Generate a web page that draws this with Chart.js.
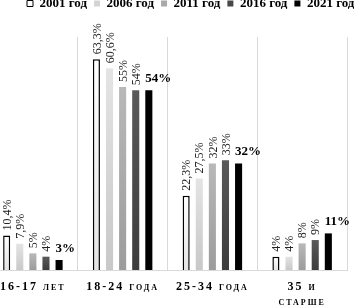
<!DOCTYPE html>
<html>
<head>
<meta charset="utf-8">
<script src="https://cdn.jsdelivr.net/npm/chart.js@4.4.1/dist/chart.umd.min.js"></script>
<style>
  html, body { margin: 0; padding: 0; background: #fff; overflow: hidden; width: 354px; height: 305px; position: relative; }
  #c { position: absolute; left: -12px; top: 0; }
</style>
</head>
<body>
<canvas id="c" width="402" height="318"></canvas>
<script>
const categories = ['16-17 лет', '18-24 года', '25-34 года', ['35 и', 'старше']];
const seriesNames = ['2001 год', '2006 год', '2011 год', '2016 год', '2021 год'];
const values2001 = [10.4, 63.3, 22.3, 4];
const values2006 = [7.9, 60.6, 27.5, 4];
const values2011 = [5, 55, 32, 8];
const values2016 = [4, 54, 33, 9];
const values2021 = [3, 54, 32, 11];
const allValues = [values2001, values2006, values2011, values2016, values2021];

const FONT = '"Liberation Serif", "Times New Roman", serif';
const solid = ['#ffffff', '#d4d4d4', '#a9a9a9', '#474747', '#000000'];
const gradStops = [
  ['#ffffff', '#e4e4e4'],
  ['#e4e4e4', '#c8c8c8'],
  ['#b8b8b8', '#9c9c9c'],
  ['#5a5a5a', '#3c3c3c'],
  ['#000000', '#000000']
];

function fmt(v) { return String(v).replace('.', ',') + '%'; }

function barFill(di) {
  return function(ctx) {
    const chart = ctx.chart;
    const y = chart.scales && chart.scales.y;
    if (!chart.chartArea || !y || ctx.type !== 'data') return solid[di];
    const v = ctx.raw;
    const top = y.getPixelForValue(v), base = y.getPixelForValue(0);
    if (!isFinite(top) || !isFinite(base) || base - top < 1) return solid[di];
    const g = chart.ctx.createLinearGradient(0, top, 0, base);
    g.addColorStop(0, gradStops[di][0]);
    g.addColorStop(1, gradStops[di][1]);
    return g;
  };
}

const datasets = allValues.map((vals, di) => ({
  label: seriesNames[di],
  data: vals,
  backgroundColor: barFill(di),
  borderColor: di === 0 ? '#000000' : 'rgba(0,0,0,0)',
  borderWidth: di === 0 ? 1.5 : 0,
  categoryPercentage: 0.73,
  barPercentage: 0.54
}));

const legendSpacer = {
  id: 'legendSpacer',
  beforeInit(chart) {
    const lg = chart.legend;
    if (!lg) return;
    const fit = lg.fit;
    lg.fit = function() { this.maxWidth = 500; fit.call(this); this.height += 17; };
  },
  afterLayout(chart) {
    const lg = chart.legend;
    if (lg) { lg.left = 32; lg.right = 532; }
  }
};

const tickSpacing = {
  id: 'tickSpacing',
  beforeDraw(chart) {
    const s = chart.scales.x;
    if (s && !s._spaced) {
      const orig = s.drawLabels;
      s.drawLabels = function(area) {
        const c = this.ctx;
        const prev = c.letterSpacing;
        c.letterSpacing = '2px';
        orig.call(this, area);
        c.letterSpacing = prev || '0px';
      };
      s._spaced = true;
    }
  }
};

const valueLabels = {
  id: 'valueLabels',
  afterDatasetsDraw(chart) {
    const c = chart.ctx;
    chart.data.datasets.forEach((ds, di) => {
      const meta = chart.getDatasetMeta(di);
      meta.data.forEach((bar, i) => {
        const txt = fmt(ds.data[i]);
        c.save();
        c.fillStyle = '#222222';
        if (di < 4) {
          c.font = '12px ' + FONT;
          c.translate(bar.x + 1, bar.y - 5);
          c.rotate(-Math.PI / 2);
          c.textAlign = 'left';
          c.textBaseline = 'middle';
          c.fillText(txt, 0, 0);
        } else {
          c.fillStyle = '#000000';
          c.font = 'bold 13px ' + FONT;
          c.textAlign = 'left';
          c.textBaseline = 'alphabetic';
          c.fillText(txt, bar.x - bar.width / 2, bar.y - 8);
        }
        c.restore();
      });
    });
  }
};

new Chart(document.getElementById('c'), {
  type: 'bar',
  data: { labels: categories, datasets },
  options: {
    responsive: false,
    animation: false,
    devicePixelRatio: 1,
    layout: { padding: { top: -10, left: 0, right: 43, bottom: 0 } },
    plugins: {
      tooltip: { enabled: false },
      legend: {
        position: 'top',
        align: 'start',
        labels: {
          boxWidth: 6,
          boxHeight: 6,
          padding: 7,
          color: '#000000',
          font: { family: FONT, size: 13, weight: 'bold' },
          generateLabels(chart) {
            return seriesNames.map((n, i) => ({
              text: n,
              fillStyle: solid[i],
              strokeStyle: i === 0 ? '#000000' : solid[i],
              lineWidth: i === 0 ? 1 : 0,
              hidden: false,
              datasetIndex: i,
              fontColor: '#000000'
            }));
          }
        }
      }
    },
    scales: {
      x: {
        grid: { display: true, offset: true, color: '#d9d9d9', lineWidth: 1, drawTicks: false },
        border: { display: true, color: '#d9d9d9' },
        ticks: {
          color: '#000000',
          padding: 9,
          maxRotation: 0,
          autoSkip: false,
          font: { family: FONT, size: 12, weight: 'small-caps bold', lineHeight: 1.25 }
        }
      },
      y: {
        display: false,
        min: 0,
        max: 70
      }
    }
  },
  plugins: [legendSpacer, tickSpacing, valueLabels]
});
</script>
</body>
</html>
